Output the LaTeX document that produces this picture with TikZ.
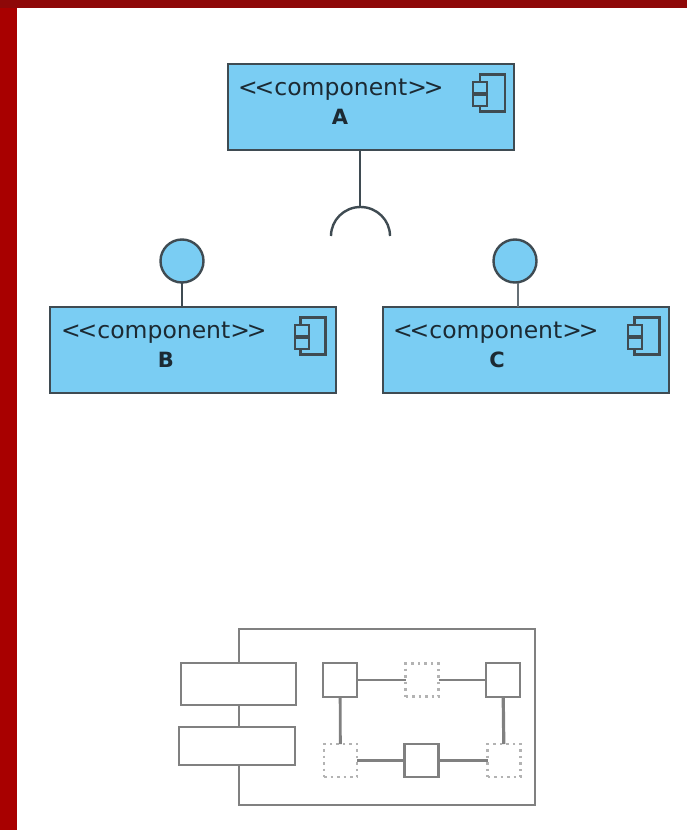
\documentclass[tikz,border=0pt]{standalone}
\usepackage{fontspec}
\setmainfont{DejaVu Sans}
\definecolor{compblue}{HTML}{7ACDF3}
\definecolor{edge}{HTML}{3F4B52}
\definecolor{ink}{HTML}{1C2A33}
\definecolor{redband}{HTML}{A80000}
\definecolor{redtop}{HTML}{8E0808}
\definecolor{ghost}{HTML}{808080}
\newcommand{\stereotext}{{<}\kern-3.2pt{<}component{>}\kern-3.2pt{>}}
\tikzset{
  comp/.style={draw=edge,line width=2.4pt,fill=compblue,minimum width=286pt,minimum height=86pt,inner sep=0pt,outer sep=0pt},
  stereo/.style={font=\fontsize{23.5}{24}\selectfont,text=ink,anchor=base west,inner sep=0pt},
  cname/.style={font=\fontsize{21}{21}\selectfont\bfseries,text=ink,anchor=base,inner sep=0pt},
  lollipop/.style={circle,draw=edge,line width=2.4pt,fill=compblue,minimum size=43pt,inner sep=0pt,outer sep=0pt},
  wire/.style={draw=edge,line width=2.4pt},
  iconbody/.style={draw=edge,line width=2.2pt,fill=compblue,minimum width=25pt,minimum height=37pt,inner sep=0pt,outer sep=0pt},
  icontab/.style={draw=edge,line width=2.2pt,fill=compblue,minimum width=14pt,minimum height=11pt,inner sep=0pt,outer sep=0pt},
  grayline/.style={draw=ghost,line width=2.8pt},
  grayfill/.style={draw=ghost,line width=2.8pt,fill=white,inner sep=0pt,outer sep=0pt},
  port/.style={grayfill,minimum width=34pt,minimum height=34pt},
  hollow/.style={draw=ghost!60,line width=2.2pt,dash pattern=on 2.5pt off 4pt,fill=white,inner sep=0pt,outer sep=0pt,minimum width=33pt,minimum height=33pt},
}
\begin{document}
\begin{tikzpicture}[x=1pt,y=-1pt]
\useasboundingbox (0,0) rectangle (687,830);
\fill[white] (0,0) rectangle (687,830);
\fill[redband] (0,0) rectangle (17,830);
\fill[redtop] (0,0) rectangle (687,8);
% A
\node[comp] (A) at (371,107) {};
\node[stereo] (Atxt) at (238,95) {\stereotext};
\node[cname] (Aname) at (340,124.5) {A};
\node[iconbody] (Aicon) at (492.5,93) {};
\node[icontab] (Atab1) at (480,87.5) {};
\node[icontab] (Atab2) at (480,100.5) {};
% B
\node[comp] (B) at (193,350) {};
\node[stereo] (Btxt) at (61,338) {\stereotext};
\node[cname] (Bname) at (166,367.5) {B};
\node[iconbody] (Bicon) at (313,336) {};
\node[icontab] (Btab1) at (302,330.5) {};
\node[icontab] (Btab2) at (302,343.5) {};
% C
\node[comp] (C) at (526,350) {};
\node[stereo] (Ctxt) at (393,338) {\stereotext};
\node[cname] (Cname) at (497,367.5) {C};
\node[iconbody] (Cicon) at (647,336) {};
\node[icontab] (Ctab1) at (635,330.5) {};
\node[icontab] (Ctab2) at (635,343.5) {};
% lollipops
\node[lollipop] (Bl) at (182,261) {};
\node[lollipop] (Cl) at (515,261) {};
\draw[wire] (Bl.south) -- (Bl.south |- B.north);
\draw[wire,draw=edge!80] (Cl.south) ++(3,0) coordinate (Cs) -- (Cs |- C.north);
% socket
\coordinate (sockL) at (331,236);
\coordinate (sockT) at (360,207);
\draw[wire] (A.south -| sockT) -- (sockT);
\draw[wire] (sockL) arc[start angle=180,end angle=0,x radius=29.5pt,y radius=29pt];
% legend icon
\node[draw=ghost,line width=2.8pt,fill=white,minimum width=296pt,minimum height=176pt,inner sep=0pt,outer sep=0pt] (frame) at (387,717) {};
\node[grayfill,minimum width=115pt,minimum height=42pt] (tab1) at (238.5,684) {};
\node[grayfill,minimum width=116pt,minimum height=38pt] (tab2) at (237,746) {};
\node[port] (p1) at (340,680) {};
\node[hollow] (p2) at (422,680) {};
\node[port] (p3) at (503,680) {};
\node[hollow] (p4) at (340.5,760.5) {};
\node[port,minimum height=33pt] (p5) at (421.5,760.5) {};
\node[hollow] (p6) at (504,760.5) {};
\draw[grayline] (p1) -- (p2);
\draw[grayline] (p2) -- (p3);
\draw[grayline] (p1) -- (p4);
\draw[grayline,line width=3.2pt] (p3) -- (p6);
\draw[grayline,line width=3pt] (p4) -- (p5);
\draw[grayline,line width=3pt] (p5) -- (p6);
\end{tikzpicture}
\end{document}
